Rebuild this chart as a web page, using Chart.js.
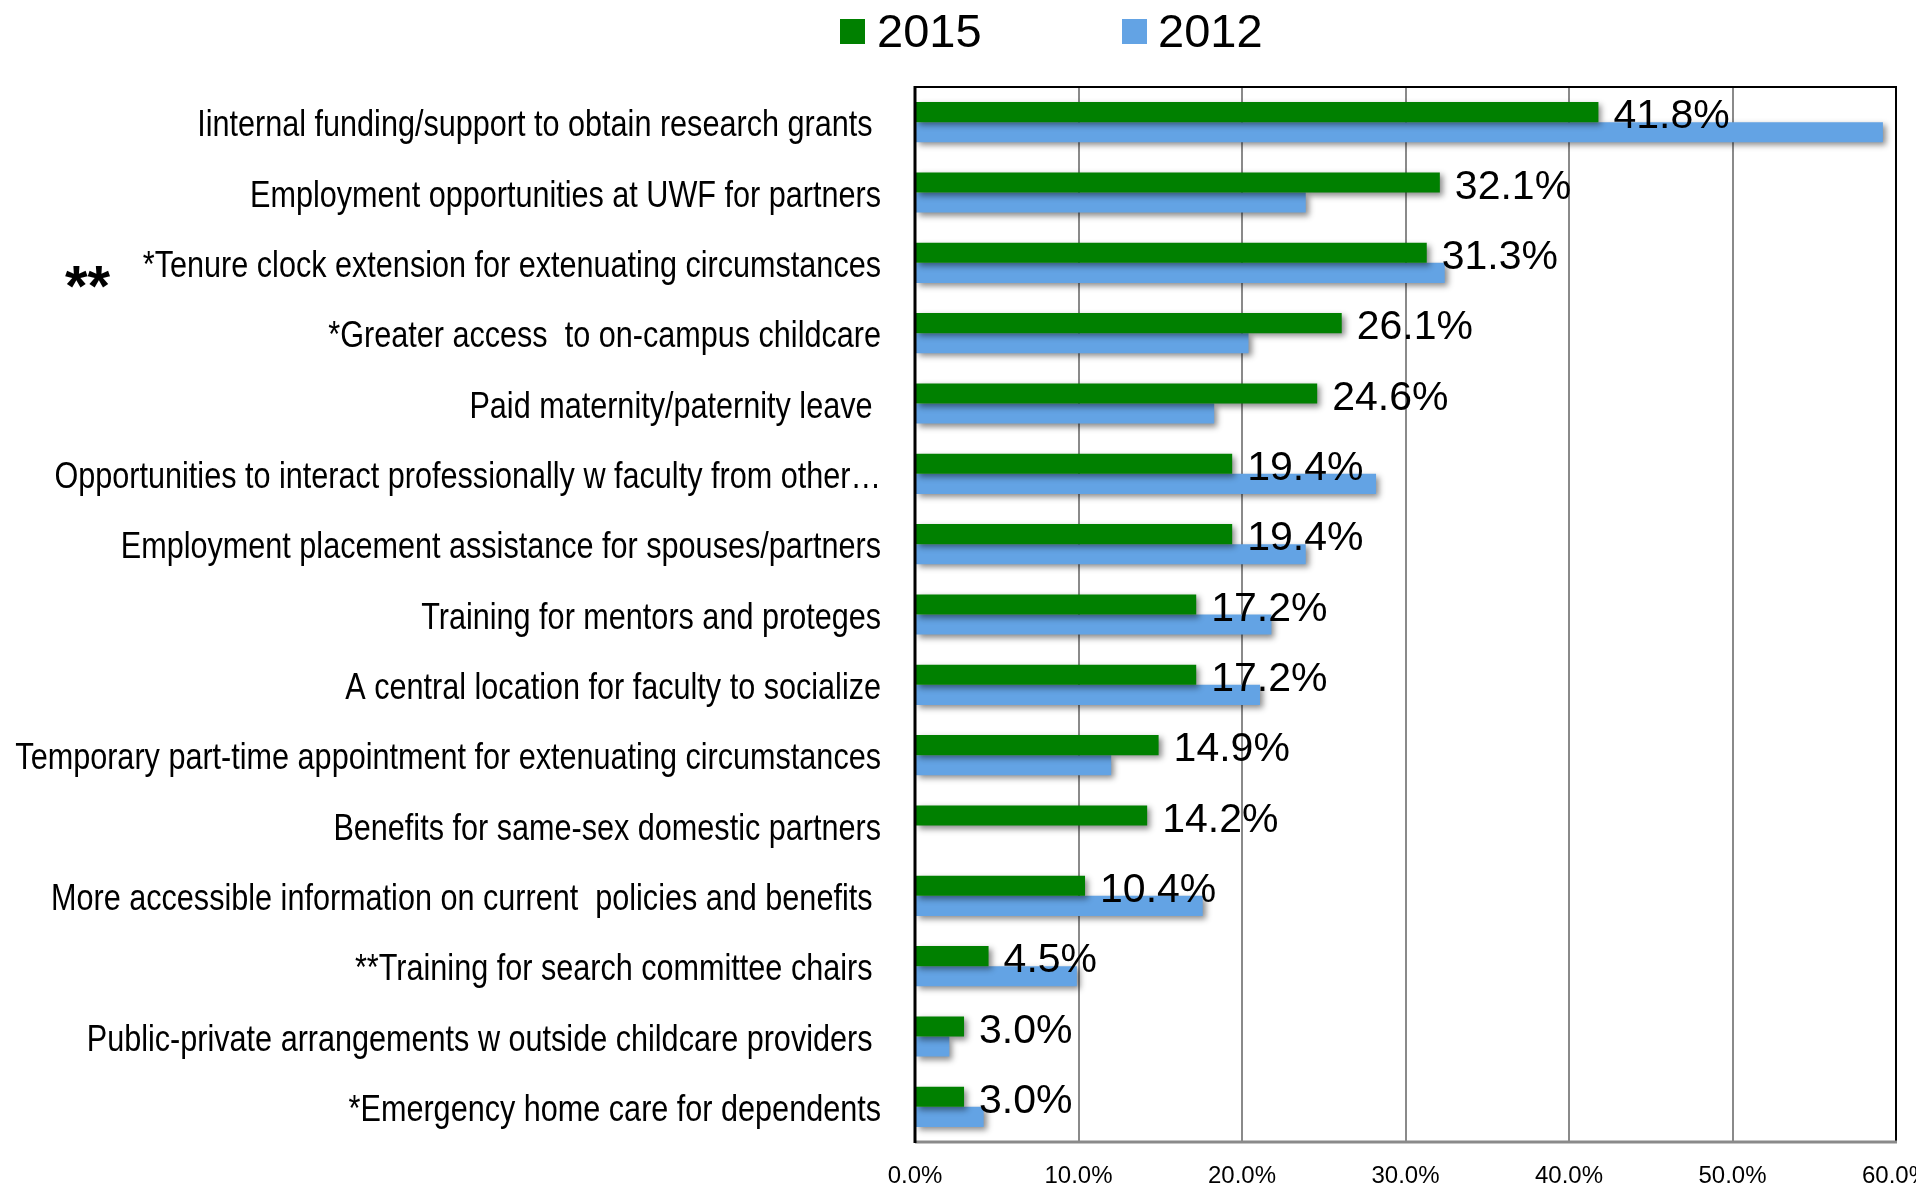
<!DOCTYPE html>
<html>
<head>
<meta charset="utf-8">
<script src="https://cdn.jsdelivr.net/npm/chart.js@4/dist/chart.umd.min.js"></script>
<style>
  html, body { margin: 0; padding: 0; background: #fff; }
  #wrap { position: relative; width: 1916px; height: 1186px; overflow: hidden; }
  #legend { position: absolute; left: 0; top: 0; }
  .item { position: absolute; font: 47px "Liberation Sans", Arial, sans-serif; line-height: 47px; color: #000; }
  .box { position: absolute; width: 25px; height: 25px; }
</style>
</head>
<body>
<div id="wrap">
  <canvas id="chart" width="1916" height="1186"></canvas>
  <div id="legend"></div>
</div>
<script>
// data
const categories = [
  'Iinternal funding/support to obtain research grants ',
  'Employment opportunities at UWF for partners',
  '*Tenure clock extension for extenuating circumstances',
  '*Greater access  to on-campus childcare',
  'Paid maternity/paternity leave ',
  'Opportunities to interact professionally w faculty from other\u2026',
  'Employment placement assistance for spouses/partners',
  'Training for mentors and proteges',
  'A central location for faculty to socialize',
  'Temporary part-time appointment for extenuating circumstances',
  'Benefits for same-sex domestic partners',
  'More accessible information on current  policies and benefits ',
  '**Training for search committee chairs ',
  'Public-private arrangements w outside childcare providers ',
  '*Emergency home care for dependents'
];
const seriesNames = ['2015', '2012'];
const seriesColors = ['#008000', '#63a3e4'];
const values2015 = [41.8, 32.1, 31.3, 26.1, 24.6, 19.4, 19.4, 17.2, 17.2, 14.9, 14.2, 10.4, 4.5, 3.0, 3.0];
const values2012 = [59.2, 23.9, 32.4, 20.4, 18.3, 28.2, 23.9, 21.8, 21.1, 12.0, null, 17.6, 9.9, 2.1, 4.2];
const xMax = 60;
const xStep = 10;
const note = '**';
const noteRow = 2;

const plainFont = '"Liberation Sans", Arial, sans-serif';
const narrow = 0.827; // arial narrow look, no narrow face installed

// html legend
const legendPos = [[840, 877], [1122, 1158]];
const legend = document.getElementById('legend');
seriesNames.forEach((name, i) => {
  const box = document.createElement('div');
  box.className = 'box';
  box.style.left = legendPos[i][0] + 'px';
  box.style.top = '19px';
  box.style.background = seriesColors[i];
  legend.appendChild(box);
  const txt = document.createElement('div');
  txt.className = 'item';
  txt.style.left = legendPos[i][1] + 'px';
  txt.style.top = '7px';
  txt.textContent = name;
  legend.appendChild(txt);
});

// shadow under bars, frame, value labels, category labels and the ** note
const decor = {
  id: 'decor',
  beforeDatasetsDraw(chart) {
    const ctx = chart.ctx;
    ctx.save();
    ctx.shadowColor = 'rgba(0,0,0,0.45)';
    ctx.shadowBlur = 6;
    ctx.shadowOffsetX = 3;
    ctx.shadowOffsetY = 3;
  },
  afterDatasetsDraw(chart) {
    const ctx = chart.ctx;
    ctx.restore();
    const a = chart.chartArea;

    ctx.save();
    ctx.strokeStyle = '#000';
    ctx.lineWidth = 2;
    ctx.beginPath();
    ctx.moveTo(a.left, a.top);
    ctx.lineTo(a.right, a.top);
    ctx.lineTo(a.right, a.bottom);
    ctx.stroke();
    ctx.strokeStyle = '#8a8a8a';
    ctx.lineWidth = 3;
    ctx.beginPath();
    ctx.moveTo(a.left, a.bottom);
    ctx.lineTo(a.right + 1, a.bottom);
    ctx.stroke();
    ctx.strokeStyle = '#000';
    ctx.lineWidth = 3;
    ctx.beginPath();
    ctx.moveTo(a.left, a.top - 1);
    ctx.lineTo(a.left, a.bottom + 1);
    ctx.stroke();

    // labels on the 2015 bars
    const meta = chart.getDatasetMeta(0);
    ctx.fillStyle = '#000';
    ctx.font = '41px ' + plainFont;
    ctx.textAlign = 'left';
    ctx.textBaseline = 'middle';
    meta.data.forEach((bar, i) => {
      ctx.fillText(values2015[i].toFixed(1) + '%', bar.x + 15, bar.y + 5);
    });

    // category labels, squeezed
    const y = chart.scales.y;
    ctx.font = '37px ' + plainFont;
    ctx.textAlign = 'right';
    categories.forEach((lab, i) => {
      ctx.save();
      ctx.translate(a.left - 34, y.getPixelForValue(i) + 4);
      ctx.scale(narrow, 1);
      ctx.fillText(lab, 0, 0);
      ctx.restore();
    });

    // the ** next to the tenure label
    ctx.font = 'bold 58px ' + plainFont;
    ctx.textAlign = 'left';
    ctx.textBaseline = 'alphabetic';
    ctx.fillText(note, 65, y.getPixelForValue(noteRow) + 43);
    ctx.restore();
  }
};

new Chart(document.getElementById('chart'), {
  type: 'bar',
  data: {
    labels: categories,
    datasets: [
      {
        label: seriesNames[0],
        data: values2015,
        backgroundColor: seriesColors[0],
        categoryPercentage: 0.57,
        barPercentage: 1.0,
      },
      {
        label: seriesNames[1],
        data: values2012,
        backgroundColor: seriesColors[1],
        categoryPercentage: 0.57,
        barPercentage: 1.0,
      },
    ],
  },
  options: {
    indexAxis: 'y',
    responsive: false,
    animation: false,
    devicePixelRatio: 1,
    layout: { padding: { top: 87, right: 20, left: 0, bottom: 0 } },
    plugins: {
      legend: { display: false },
      tooltip: { enabled: false },
    },
    scales: {
      x: {
        min: 0,
        max: xMax,
        grid: { color: '#8a8a8a', lineWidth: 2, drawTicks: false },
        border: { display: false },
        ticks: {
          stepSize: xStep,
          padding: 20,
          color: '#000',
          font: { family: plainFont, size: 24 },
          callback: (v) => v.toFixed(1) + '%',
        },
        afterFit(scale) {
          scale.height = 44;
          scale.paddingLeft = 0;
          scale.paddingRight = 0;
        },
      },
      y: {
        grid: { display: false },
        border: { display: false },
        ticks: { display: false },
        afterFit(scale) {
          scale.width = 915;
          scale.paddingTop = 0;
          scale.paddingBottom = 0;
        },
      },
    },
  },
  plugins: [decor],
});
</script>
</body>
</html>
